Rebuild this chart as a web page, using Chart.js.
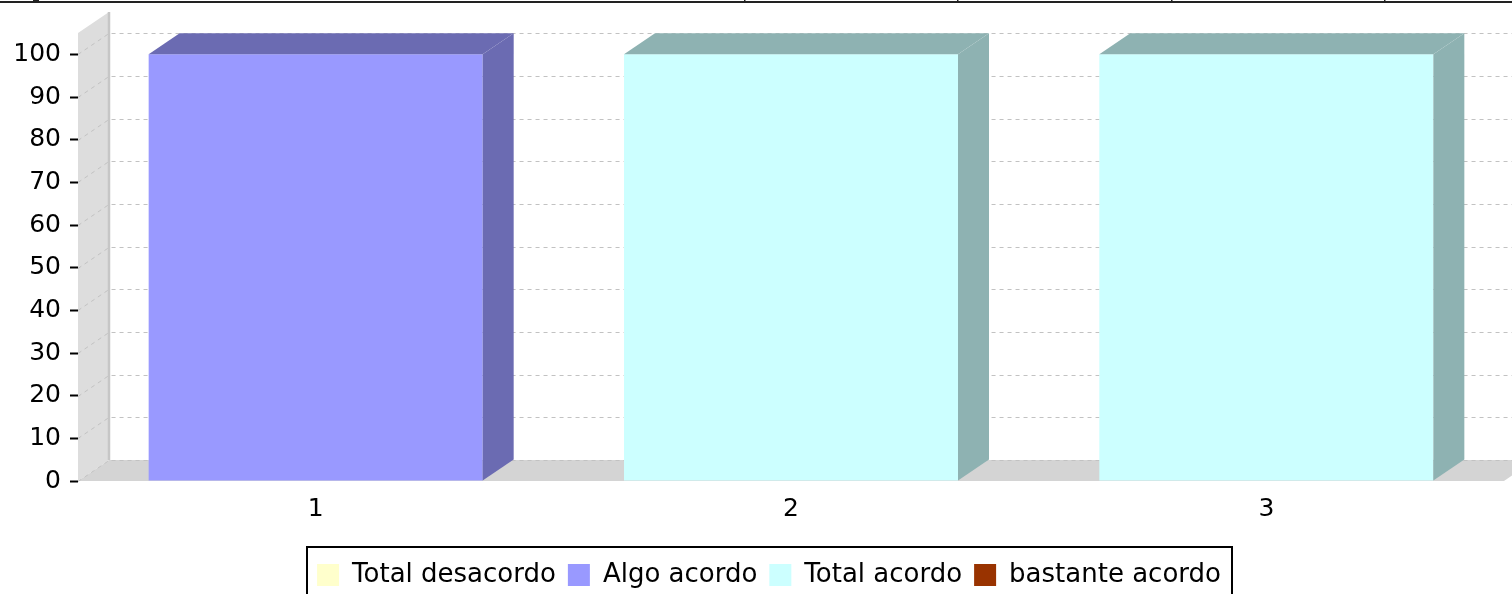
<!DOCTYPE html>
<html>
<head>
<meta charset="utf-8">
<script src="https://cdn.jsdelivr.net/npm/chart.js@4.4.1/dist/chart.umd.min.js"></script>
<style>
html,body{margin:0;padding:0;background:#fff;}
#wrap{width:1512px;height:594px;position:relative;}
</style>
</head>
<body>
<div id="wrap"><canvas id="c"></canvas></div>
<script>
// ---- data ----
const categories = ['1', '2', '3'];
const seriesNames = ['Total desacordo', 'Algo acordo', 'Total acordo', 'bastante acordo'];
const totalDesacordo = [0, 0, 0];
const algoAcordo = [100, 0, 0];
const totalAcordo = [0, 100, 100];
const bastanteAcordo = [0, 0, 0];
const yTickStep = 10;
const yAxisMax = 105;

// ---- style ----
const seriesColors = ['#FFFFCC', '#9999FF', '#CCFFFF', '#993300'];
const FONT = 'DejaVu Sans';
const DX = 31, DY = 21;
const LEGEND_SHIFT = 17;

function darker(hex) {
  const n = parseInt(hex.slice(1), 16);
  const r = Math.floor(((n >> 16) & 255) * 0.7);
  const g = Math.floor(((n >> 8) & 255) * 0.7);
  const b = Math.floor((n & 255) * 0.7);
  return 'rgb(' + r + ',' + g + ',' + b + ')';
}

const seriesValues = [totalDesacordo, algoAcordo, totalAcordo, bastanteAcordo];
const datasets = seriesNames.map((name, i) => ({
  label: name,
  data: seriesValues[i],
  backgroundColor: seriesColors[i],
  borderColor: seriesColors[i],
  borderWidth: 0,
  categoryPercentage: 1.0,
  barPercentage: 0.7027
}));

const bar3d = {
  id: 'bar3d',
  afterLayout(chart) {
    const lg = chart.legend;
    if (lg) { lg.left += LEGEND_SHIFT; lg.right += LEGEND_SHIFT; }
  },
  beforeDatasetsDraw(chart) {
    const { ctx, chartArea: a, scales: { y } } = chart;
    ctx.save();
    // left side wall
    ctx.fillStyle = '#DDDDDD';
    ctx.beginPath();
    ctx.moveTo(a.left, a.bottom);
    ctx.lineTo(a.left, a.top);
    ctx.lineTo(a.left + DX, a.top - DY);
    ctx.lineTo(a.left + DX, a.bottom - DY);
    ctx.closePath();
    ctx.fill();
    // floor
    ctx.fillStyle = '#D4D4D4';
    ctx.beginPath();
    ctx.moveTo(a.left, a.bottom);
    ctx.lineTo(a.left + DX, a.bottom - DY);
    ctx.lineTo(a.right + DX, a.bottom - DY);
    ctx.lineTo(a.right, a.bottom);
    ctx.closePath();
    ctx.fill();
    // grid lines (side wall diagonal + back wall)
    ctx.strokeStyle = '#C2C2C2';
    ctx.lineWidth = 1;
    ctx.setLineDash([4, 4]);
    y.ticks.forEach(t => {
      const py = Math.round(y.getPixelForValue(t.value)) + 0.5;
      ctx.beginPath();
      ctx.moveTo(a.left, py);
      ctx.lineTo(a.left + DX, py - DY);
      ctx.lineTo(chart.width + DX, py - DY);
      ctx.stroke();
    });
    ctx.setLineDash([]);
    // back wall corner edge
    ctx.strokeStyle = '#C6C6C6';
    ctx.lineWidth = 2.5;
    ctx.beginPath();
    ctx.moveTo(a.left + DX, a.top - DY);
    ctx.lineTo(a.left + DX, a.bottom - DY);
    ctx.stroke();
    ctx.restore();
  },
  afterDatasetsDraw(chart) {
    const { ctx } = chart;
    ctx.save();
    chart.data.datasets.forEach((ds, di) => {
      const meta = chart.getDatasetMeta(di);
      if (meta.hidden) return;
      meta.data.forEach(el => {
        const top = Math.min(el.y, el.base);
        const bottom = Math.max(el.y, el.base);
        if (bottom - top < 0.5) return;
        const x1 = el.x - el.width / 2, x2 = el.x + el.width / 2;
        ctx.fillStyle = darker(ds.backgroundColor);
        // side face
        ctx.beginPath();
        ctx.moveTo(x2, top);
        ctx.lineTo(x2 + DX, top - DY);
        ctx.lineTo(x2 + DX, bottom - DY);
        ctx.lineTo(x2, bottom);
        ctx.closePath();
        ctx.fill();
        // top face
        ctx.beginPath();
        ctx.moveTo(x1, top);
        ctx.lineTo(x1 + DX, top - DY);
        ctx.lineTo(x2 + DX, top - DY);
        ctx.lineTo(x2, top);
        ctx.closePath();
        ctx.fill();
      });
    });
    ctx.restore();
  },
  afterDraw(chart) {
    const { ctx } = chart;
    ctx.save();
    // legend frame
    const lg = chart.legend;
    if (lg && lg.legendHitBoxes && lg.legendHitBoxes.length) {
      const hb = lg.legendHitBoxes;
      const l = hb[0].left - 10;
      const last = hb[hb.length - 1];
      const r = last.left + last.width + 11;
      const t = lg.top - 3;
      ctx.strokeStyle = '#000';
      ctx.lineWidth = 2;
      ctx.strokeRect(Math.round(l), Math.round(t), Math.round(r - l), chart.height);
    }
    // top border remnant
    ctx.fillStyle = '#222';
    ctx.fillRect(0, 1, chart.width, 2);
    [744, 957, 1171, 1384].forEach(x => ctx.fillRect(x, 0, 1.5, 2));
    ctx.fillRect(33, 0, 6, 1.5);
    ctx.restore();
  }
};

Chart.defaults.font.family = FONT;
Chart.defaults.color = '#000';

new Chart(document.getElementById('c'), {
  type: 'bar',
  data: { labels: categories, datasets },
  options: {
    responsive: true,
    maintainAspectRatio: false,
    animation: false,
    events: [],
    layout: { padding: { top: 33, left: 0, right: 8, bottom: -4 } },
    plugins: {
      title: { display: false },
      tooltip: { enabled: false },
      legend: {
        display: true,
        position: 'bottom',
        labels: {
          font: { family: FONT, size: 26 },
          color: '#000',
          boxWidth: 22,
          boxHeight: 22,
          padding: 12
        }
      }
    },
    scales: {
      x: {
        stacked: true,
        offset: true,
        grid: { display: false },
        border: { display: false },
        ticks: { font: { family: FONT, size: 25 }, color: '#000', padding: 5 },
        afterFit(s) { s.height = 69; }
      },
      y: {
        stacked: true,
        min: 0,
        max: yAxisMax,
        grid: { display: true, drawOnChartArea: false, drawTicks: true, tickLength: 8, color: '#000', tickColor: '#000', tickWidth: 2 },
        border: { display: false },
        ticks: { stepSize: yTickStep, includeBounds: false, font: { family: FONT, size: 25 }, color: '#000', padding: 9 },
        afterFit(s) { s.width = 78; }
      }
    }
  },
  plugins: [bar3d]
});
</script>
</body>
</html>
